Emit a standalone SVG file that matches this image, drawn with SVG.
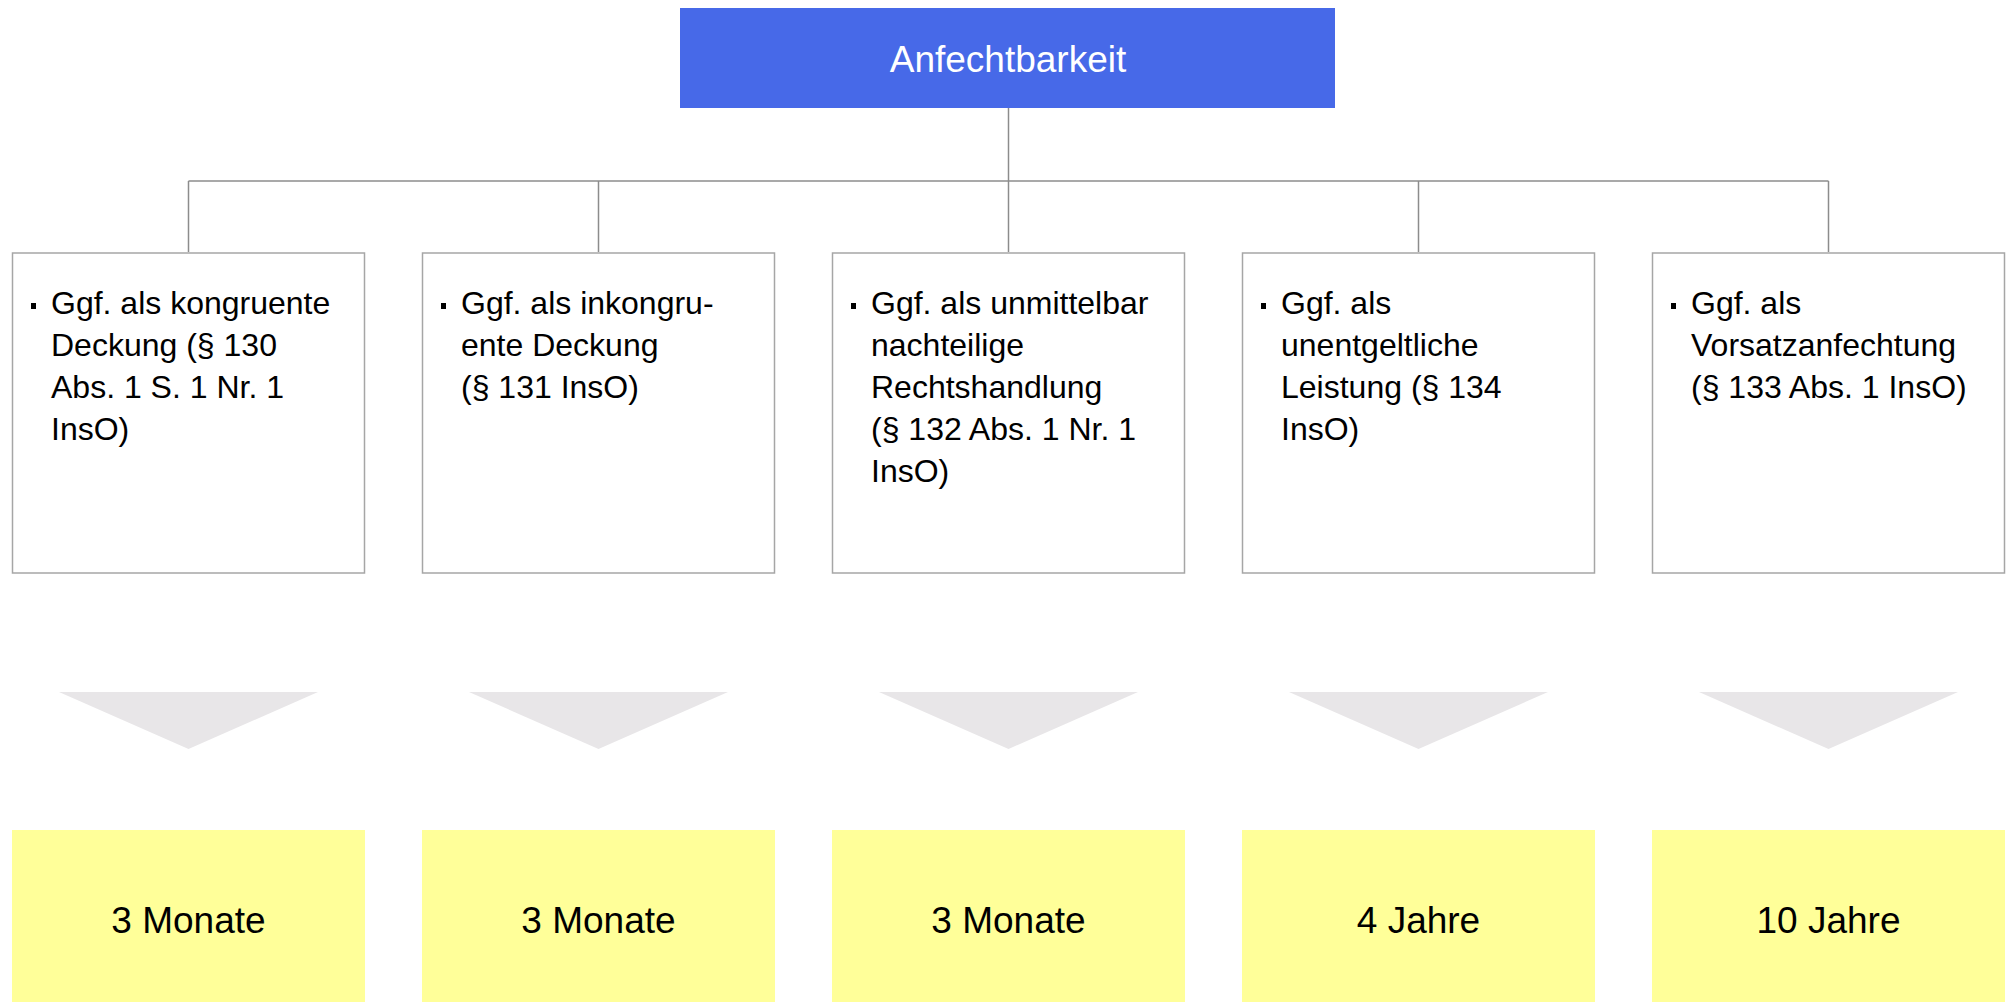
<svg xmlns="http://www.w3.org/2000/svg" width="2009" height="1002" viewBox="0 0 2009 1002">
<style>
.box{fill:#ffffff;stroke:#a6a6a6;stroke-width:1.5}
.res{fill:#ffff99}
.tri{fill:#e8e6e8}
.t{font-family:"Liberation Sans",Arial,sans-serif;font-size:32px;fill:#000}
.r{font-family:"Liberation Sans",Arial,sans-serif;font-size:37px;fill:#000;text-anchor:middle}
.h{font-family:"Liberation Sans",Arial,sans-serif;font-size:37px;fill:#ffffff;text-anchor:middle}
.bul{fill:#000}
.con{stroke:#8c8c8c;stroke-width:1.5;fill:none}
</style>
<rect width="2009" height="1002" fill="#ffffff"/>
<g id="connectors">
<path class="con" d="M1008.5 108V252"/>
<path class="con" d="M188.5 181H1828.5"/>
<path class="con" d="M188.5 181V252M598.5 181V252M1418.5 181V252M1828.5 181V252"/>
</g>
<g id="root">
<rect x="680" y="8" width="655" height="100" fill="#4769e8"/>
<text class="h" x="1008" y="72">Anfechtbarkeit</text>
</g>
<g id="n1">
<rect class="box" x="12.5" y="253" width="352" height="320"/>
<rect class="bul" x="31" y="303" width="5" height="6"/>
<text class="t" x="51" y="314">Ggf. als kongruente</text>
<text class="t" x="51" y="356">Deckung (§ 130</text>
<text class="t" x="51" y="398">Abs. 1 S. 1 Nr. 1</text>
<text class="t" x="51" y="440">InsO)</text>
</g>
<g id="n2">
<rect class="box" x="422.5" y="253" width="352" height="320"/>
<rect class="bul" x="441" y="303" width="5" height="6"/>
<text class="t" x="461" y="314">Ggf. als inkongru-</text>
<text class="t" x="461" y="356">ente Deckung</text>
<text class="t" x="461" y="398">(§ 131 InsO)</text>
</g>
<g id="n3">
<rect class="box" x="832.5" y="253" width="352" height="320"/>
<rect class="bul" x="851" y="303" width="5" height="6"/>
<text class="t" x="871" y="314">Ggf. als unmittelbar</text>
<text class="t" x="871" y="356">nachteilige</text>
<text class="t" x="871" y="398">Rechtshandlung</text>
<text class="t" x="871" y="440">(§ 132 Abs. 1 Nr. 1</text>
<text class="t" x="871" y="482">InsO)</text>
</g>
<g id="n4">
<rect class="box" x="1242.5" y="253" width="352" height="320"/>
<rect class="bul" x="1261" y="303" width="5" height="6"/>
<text class="t" x="1281" y="314">Ggf. als</text>
<text class="t" x="1281" y="356">unentgeltliche</text>
<text class="t" x="1281" y="398">Leistung (§ 134</text>
<text class="t" x="1281" y="440">InsO)</text>
</g>
<g id="n5">
<rect class="box" x="1652.5" y="253" width="352" height="320"/>
<rect class="bul" x="1671" y="303" width="5" height="6"/>
<text class="t" x="1691" y="314">Ggf. als</text>
<text class="t" x="1691" y="356">Vorsatzanfechtung</text>
<text class="t" x="1691" y="398">(§ 133 Abs. 1 InsO)</text>
</g>
<g id="arrows">
<polygon class="tri" points="59,692 318,692 188.5,749"/>
<polygon class="tri" points="469,692 728,692 598.5,749"/>
<polygon class="tri" points="879,692 1138,692 1008.5,749"/>
<polygon class="tri" points="1289,692 1548,692 1418.5,749"/>
<polygon class="tri" points="1699,692 1958,692 1828.5,749"/>
</g>
<g id="r1"><rect class="res" x="12" y="830" width="353" height="172"/><text class="r" x="188.5" y="933">3 Monate</text></g>
<g id="r2"><rect class="res" x="422" y="830" width="353" height="172"/><text class="r" x="598.5" y="933">3 Monate</text></g>
<g id="r3"><rect class="res" x="832" y="830" width="353" height="172"/><text class="r" x="1008.5" y="933">3 Monate</text></g>
<g id="r4"><rect class="res" x="1242" y="830" width="353" height="172"/><text class="r" x="1418.5" y="933">4 Jahre</text></g>
<g id="r5"><rect class="res" x="1652" y="830" width="353" height="172"/><text class="r" x="1828.5" y="933">10 Jahre</text></g>
</svg>
